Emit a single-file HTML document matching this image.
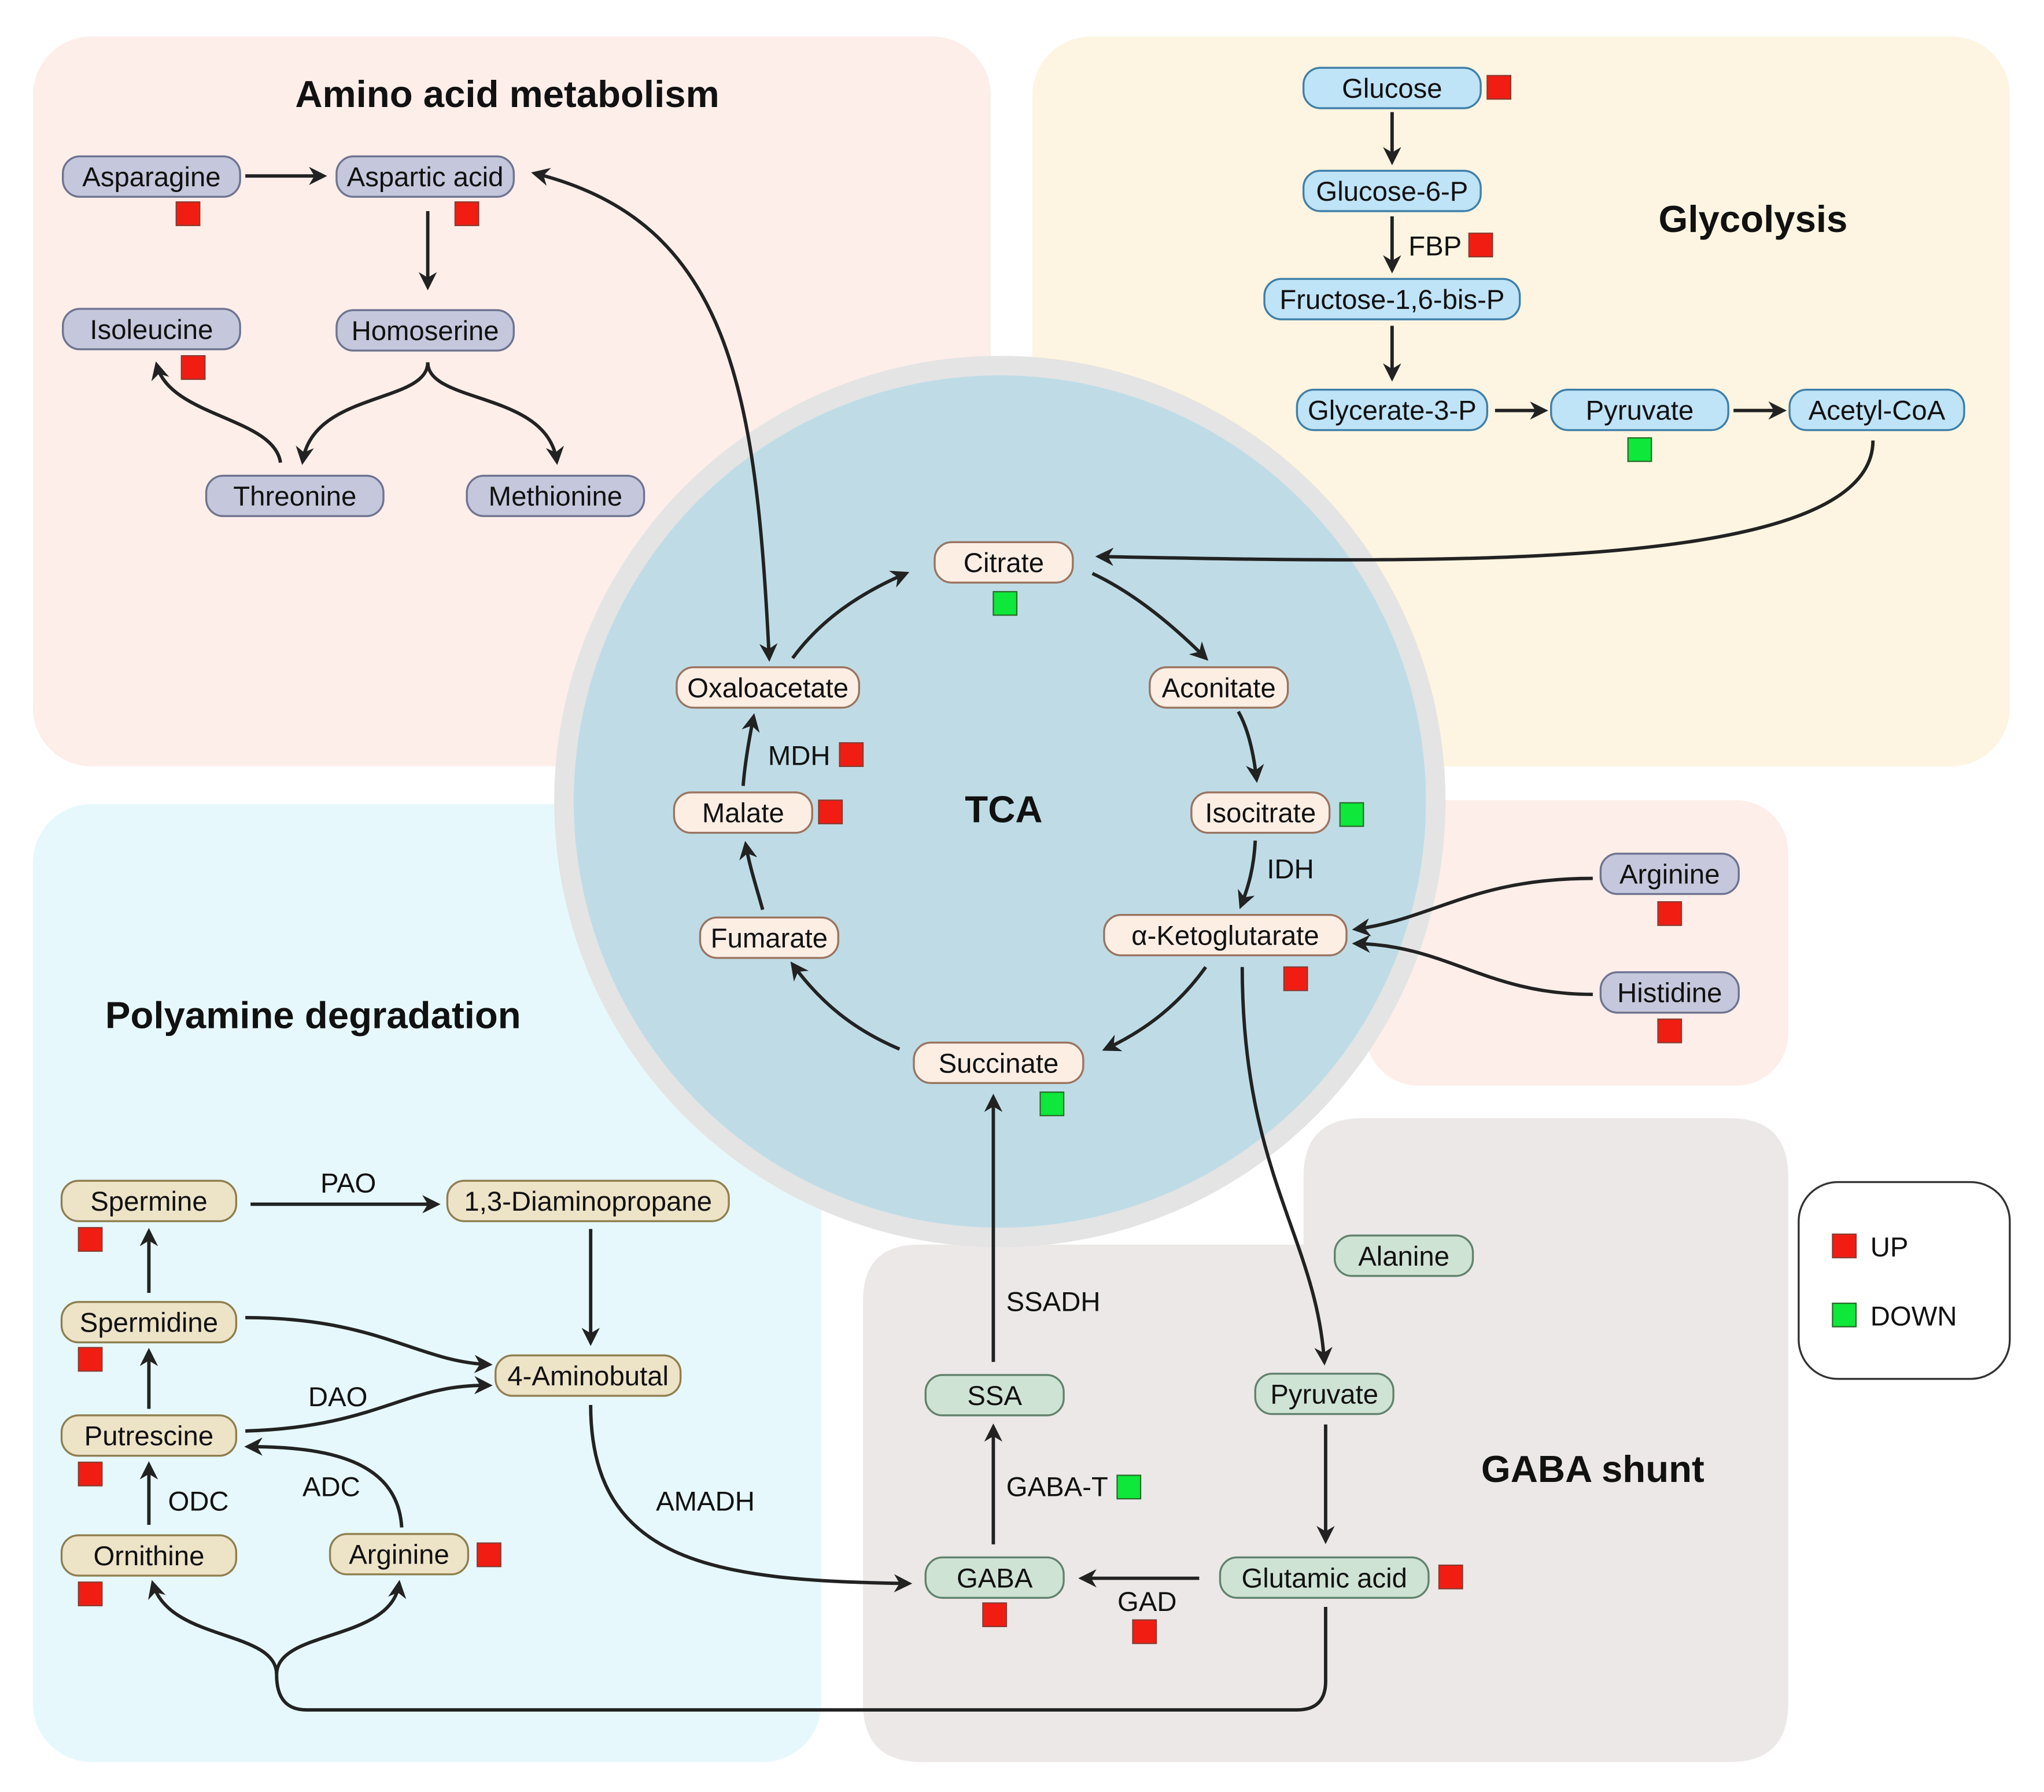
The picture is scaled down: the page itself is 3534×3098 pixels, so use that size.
<!DOCTYPE html>
<html><head><meta charset="utf-8"><style>html,body{margin:0;padding:0;background:#fff}svg{display:block}text{font-family:"Liberation Sans",sans-serif;fill:#111}</style></head><body>
<svg width="3534" height="3098" viewBox="0 0 1568 1375" xmlns="http://www.w3.org/2000/svg">
<defs>
<marker id="b" viewBox="0 0 10 10" refX="8" refY="5" markerWidth="14" markerHeight="14" orient="auto-start-reverse" markerUnits="userSpaceOnUse"><path d="M0,0 L10,5 L0,10 L3,5 z" fill="#222"/></marker>
</defs>
<rect width="1568" height="1375" fill="#fff"/>
<rect x="25" y="28" width="735" height="560" rx="45" fill="#fdeee9"/>
<rect x="792" y="28" width="750" height="560" rx="45" fill="#fdf5e1"/>
<rect x="25" y="617" width="605" height="735" rx="45" fill="#e6f8fc"/>
<path d="M705,955 L1000,955 L1000,903 Q1000,858 1045,858 L1327,858 Q1372,858 1372,903 L1372,1307 Q1372,1352 1327,1352 L707,1352 Q662,1352 662,1307 L662,998 Q662,955 705,955 z" fill="#ece8e8"/>
<rect x="1048" y="614" width="324" height="219" rx="40" fill="#fdeee9"/>
<rect x="1380" y="907" width="162" height="151" rx="30" fill="#fff" stroke="#333" stroke-width="1.5"/>
<circle cx="767" cy="615" r="342" fill="#e4e4e4"/>
<circle cx="767" cy="615" r="327" fill="#bfdce6"/>
<g font-weight="bold" font-size="29" text-anchor="middle">
<text x="389" y="82">Amino acid metabolism</text>
<text x="1345" y="178">Glycolysis</text>
<text x="240" y="789">Polyamine degradation</text>
<text x="1222" y="1137">GABA shunt</text>
<text x="770" y="631">TCA</text>
</g>
<g fill="none" stroke="#222" stroke-width="2.6" marker-end="url(#b)">
<path d="M188,135 L248,135"/>
<path d="M328,162 L328,220"/>
<path d="M328,278 C328,310 240,300 232,354"/>
<path d="M328,278 C328,310 420,300 427,354"/>
<path d="M215,355 C210,320 130,320 120,280"/>
<path d="M590,505 C580,300 560,170 410,133" marker-start="url(#b)"/>
<path d="M1068,86 L1068,124"/>
<path d="M1068,166 L1068,207"/>
<path d="M1068,250 L1068,290"/>
<path d="M1147,315 L1185,315"/>
<path d="M1330,315 L1368,315"/>
<path d="M1437,338 C1437,440 1100,432 843,427"/>
<path d="M608,505 C630,475 660,455 695,440"/>
<path d="M838,440 C870,455 900,480 925,505"/>
<path d="M950,546 C958,560 962,580 964,598"/>
<path d="M963,645 C962,665 958,680 952,695"/>
<path d="M925,742 C905,770 880,790 848,805"/>
<path d="M690,805 C655,790 630,770 608,740"/>
<path d="M585,698 C580,680 575,665 572,648"/>
<path d="M570,603 C571,590 573,575 578,550"/>
<path d="M1222,674 C1130,674 1100,705 1040,713"/>
<path d="M1222,763 C1140,763 1110,725 1040,724"/>
<path d="M953,742 C953,900 1010,950 1016,1045"/>
<path d="M1017,1093 L1017,1182"/>
<path d="M920,1211 L830,1211"/>
<path d="M762,1185 L762,1095"/>
<path d="M762,1045 L762,842"/>
<path d="M212,1285 C212,1250 130,1260 117,1215"/>
<path d="M212,1285 C212,1250 300,1260 306,1215"/>
<path d="M192,924 L335,924"/>
<path d="M453,943 L453,1030"/>
<path d="M188,1011 C290,1011 320,1045 375,1047"/>
<path d="M188,1098 C290,1095 310,1062 375,1063"/>
<path d="M114,992 L114,945"/>
<path d="M114,1081 L114,1037"/>
<path d="M114,1170 L114,1124"/>
<path d="M308,1172 C305,1120 250,1110 190,1110"/>
<path d="M453,1078 C453,1200 550,1213 697,1215"/>
</g>
<path d="M1017,1233 L1017,1290 Q1017,1312 995,1312 L235,1312 Q212,1312 212,1285" fill="none" stroke="#222" stroke-width="2.6"/>
<g font-size="21" text-anchor="middle">
<g fill="#c5c8dc" stroke="#6e7390" stroke-width="1.5">
<rect x="48" y="120" width="136" height="31" rx="13"/><rect x="258" y="120" width="136" height="31" rx="13"/>
<rect x="48" y="237" width="136" height="31" rx="13"/><rect x="258" y="238" width="136" height="31" rx="13"/>
<rect x="158" y="365" width="136" height="31" rx="13"/><rect x="358" y="365" width="136" height="31" rx="13"/>
<rect x="1228" y="655" width="106" height="31" rx="13"/><rect x="1228" y="746" width="106" height="31" rx="13"/>
</g>
<text x="116" y="143">Asparagine</text><text x="326" y="143">Aspartic acid</text>
<text x="116" y="260">Isoleucine</text><text x="326" y="261">Homoserine</text>
<text x="226" y="388">Threonine</text><text x="426" y="388">Methionine</text>
<text x="1281" y="678">Arginine</text><text x="1281" y="769">Histidine</text>
<g fill="#bfe3f7" stroke="#3f7fa8" stroke-width="1.5">
<rect x="1000" y="52" width="136" height="31" rx="13"/><rect x="1000" y="131" width="136" height="31" rx="13"/>
<rect x="970" y="214" width="196" height="31" rx="13"/><rect x="995" y="299" width="146" height="31" rx="13"/>
<rect x="1190" y="299" width="136" height="31" rx="13"/><rect x="1373" y="299" width="134" height="31" rx="13"/>
</g>
<text x="1068" y="75">Glucose</text><text x="1068" y="154">Glucose-6-P</text>
<text x="1068" y="237">Fructose-1,6-bis-P</text><text x="1068" y="322">Glycerate-3-P</text>
<text x="1258" y="322">Pyruvate</text><text x="1440" y="322">Acetyl-CoA</text>
<g fill="#fdeee4" stroke="#9a7460" stroke-width="1.5">
<rect x="717" y="416" width="106" height="31" rx="13"/><rect x="882" y="512" width="106" height="31" rx="13"/>
<rect x="914" y="608" width="106" height="31" rx="13"/><rect x="847" y="702" width="186" height="31" rx="13"/>
<rect x="701" y="800" width="130" height="31" rx="13"/><rect x="537" y="704" width="106" height="31" rx="13"/>
<rect x="517" y="608" width="106" height="31" rx="13"/><rect x="519" y="512" width="140" height="31" rx="13"/>
</g>
<text x="770" y="439">Citrate</text><text x="935" y="535">Aconitate</text>
<text x="967" y="631">Isocitrate</text><text x="940" y="725">α-Ketoglutarate</text>
<text x="766" y="823">Succinate</text><text x="590" y="727">Fumarate</text>
<text x="570" y="631">Malate</text><text x="589" y="535">Oxaloacetate</text>
<g fill="#ede3c7" stroke="#8f7f50" stroke-width="1.5">
<rect x="47" y="906" width="134" height="31" rx="13"/><rect x="343" y="906" width="216" height="31" rx="13"/>
<rect x="47" y="999" width="134" height="31" rx="13"/><rect x="380" y="1040" width="142" height="31" rx="13"/>
<rect x="47" y="1086" width="134" height="31" rx="13"/><rect x="47" y="1178" width="134" height="31" rx="13"/>
<rect x="253" y="1177" width="106" height="31" rx="13"/>
</g>
<text x="114" y="929">Spermine</text><text x="451" y="929">1,3-Diaminopropane</text>
<text x="114" y="1022">Spermidine</text><text x="451" y="1063">4-Aminobutal</text>
<text x="114" y="1109">Putrescine</text><text x="114" y="1201">Ornithine</text>
<text x="306" y="1200">Arginine</text>
<g fill="#cfe3d5" stroke="#62826c" stroke-width="1.5">
<rect x="1024" y="948" width="106" height="31" rx="13"/><rect x="710" y="1055" width="106" height="31" rx="13"/>
<rect x="963" y="1054" width="106" height="31" rx="13"/><rect x="710" y="1195" width="106" height="31" rx="13"/>
<rect x="936" y="1195" width="160" height="31" rx="13"/>
</g>
<text x="1077" y="971">Alanine</text><text x="763" y="1078">SSA</text>
<text x="1016" y="1077">Pyruvate</text><text x="763" y="1218">GABA</text>
<text x="1016" y="1218">Glutamic acid</text>
<text x="1101" y="196">FBP</text><text x="613" y="587">MDH</text><text x="990" y="674">IDH</text>
<text x="267" y="915">PAO</text><text x="259" y="1079">DAO</text><text x="254" y="1148">ADC</text>
<text x="152" y="1159">ODC</text><text x="541" y="1159">AMADH</text>
<text x="808" y="1006">SSADH</text><text x="811" y="1148">GABA-T</text><text x="880" y="1236">GAD</text>
<text x="1435" y="964" text-anchor="start">UP</text><text x="1435" y="1017" text-anchor="start">DOWN</text>
</g>
<g fill="#f21d12" stroke="#8a3a30" stroke-width="1">
<rect x="135" y="155" width="18" height="18"/><rect x="349" y="155" width="18" height="18"/><rect x="139" y="273" width="18" height="18"/>
<rect x="1141" y="58" width="18" height="18"/><rect x="1127" y="179" width="18" height="18"/>
<rect x="985" y="742" width="18" height="18"/><rect x="628" y="614" width="18" height="18"/><rect x="644" y="570" width="18" height="18"/>
<rect x="1272" y="692" width="18" height="18"/><rect x="1272" y="782" width="18" height="18"/>
<rect x="60" y="942" width="18" height="18"/><rect x="60" y="1034" width="18" height="18"/><rect x="60" y="1122" width="18" height="18"/><rect x="60" y="1214" width="18" height="18"/><rect x="366" y="1184" width="18" height="18"/>
<rect x="1104" y="1201" width="18" height="18"/><rect x="754" y="1230" width="18" height="18"/><rect x="869" y="1243" width="18" height="18"/>
<rect x="1406" y="947" width="18" height="18"/>
</g>
<g fill="#0de83a" stroke="#2a6a2a" stroke-width="1">
<rect x="1249" y="336" width="18" height="18"/><rect x="762" y="454" width="18" height="18"/><rect x="1028" y="616" width="18" height="18"/>
<rect x="798" y="838" width="18" height="18"/><rect x="857" y="1132" width="18" height="18"/><rect x="1406" y="1000" width="18" height="18"/>
</g>
</svg>
</body></html>
